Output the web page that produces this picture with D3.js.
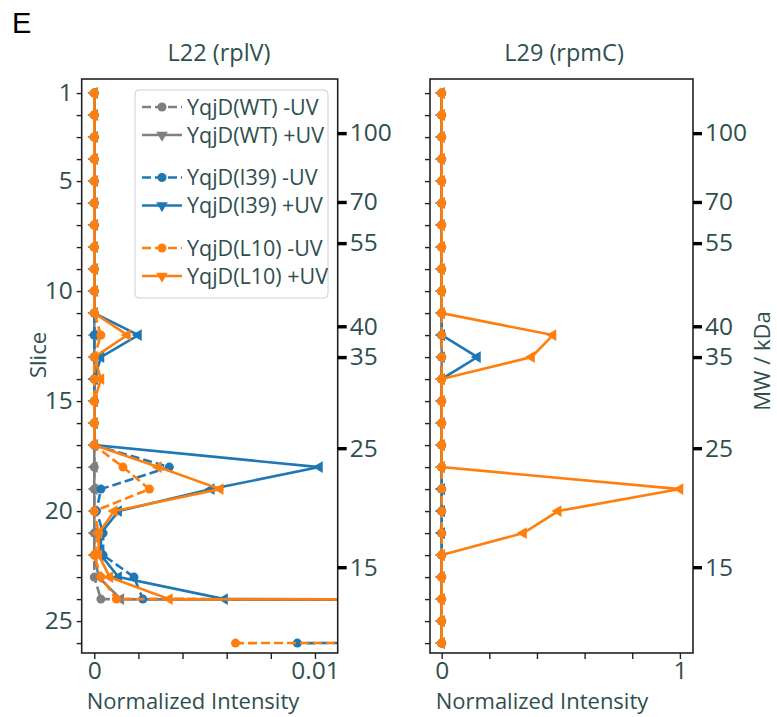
<html>
<head>
  <title>Slice profiles</title>
  <script src='https://d3js.org/d3.v7.min.js'></script>
  <style>
    body { margin: 0; background: #fff; }
    text { font-family: 'Open Sans', sans-serif; }
  </style>
</head>
<body>
<script>

// slice numbers and tick labels
var slices = [1,2,3,4,5,6,7,8,9,10,11,12,13,14,15,16,17,18,19,20,21,22,23,24,25,26];
var sliceLabels = [1, 5, 10, 15, 20, 25];
var mwLabels = [100, 70, 55, 40, 35, 25, 15];
var mwSlice = [2.82, 5.95, 7.82, 11.6, 13.0, 17.14, 22.55];

var seriesNames = ["YqjD(WT) -UV", "YqjD(WT) +UV", "YqjD(I39) -UV", "YqjD(I39) +UV", "YqjD(L10) -UV", "YqjD(L10) +UV"];
var seriesColors = ["#7f7f7f", "#7f7f7f", "#1f77b4", "#1f77b4", "#ff7f0e", "#ff7f0e"];
var seriesUV = ["-", "+", "-", "+", "-", "+"];

// L22 (rplV) normalized intensity per slice
var l22WtMinus  = [0,0,0,0,0,0,0,0,0,0,0,0,0,0,0,0,0,0,0,0,0,0,0,0.0003,0.45,0.05];
var l22WtPlus   = [0,0,0,0,0,0,0,0,0,0,0,0,0,0,0,0,0,0,0,0,0,0,0.0002,0.0012,0.5,0.2];
var l22I39Minus = [0,0,0,0,0,0,0,0,0,0,0,0,0,0,0,0,0,0.0034,0.0003,0.0001,0.0004,0.0004,0.0018,0.0022,0.8,0.0092];
var l22I39Plus  = [0,0,0,0,0,0,0,0,0,0,0,0.002,0.0003,0,0,0,0,0.0102,0.0053,0.0011,0.0003,0.0003,0.0011,0.0059,0.7,0.3];
var l22L10Minus = [0,0,0,0,0,0,0,0,0,0,0,0.0003,0,0,0,0,0,0.0013,0.0025,0,0.0002,0,0.0003,0.001,0.9,0.0064];
var l22L10Plus  = [0,0,0,0,0,0,0,0,0,0,0,0.0015,0,0.0003,0,0,0,0.0029,0.0057,0.0009,0.0002,0.0002,0.0007,0.0034,1.0,0.25];

// L29 (rpmC)
var l29WtMinus  = [0,0,0,0,0,0,0,0,0,0,0,0,0,0,0,0,0,0,0,0,0,0,0,0,0,0];
var l29WtPlus   = [0,0,0,0,0,0,0,0,0,0,0,0,0,0,0,0,0,0,0,0,0,0,0,0,0,0];
var l29I39Minus = [0,0,0,0,0,0,0,0,0,0,0,0,0,0,0,0,0,0,0,0,0,0,0,0,0,0];
var l29I39Plus  = [0,0,0,0,0,0,0,0,0,0,0,0,0.15,0,0,0,0,0,0,0,0,0,0,0,0,0];
var l29L10Minus = [0,0,0,0,0,0,0,0,0,0,0,0,0,0,0,0,0,0,0,0,0,0,0,0,0,0];
var l29L10Plus  = [0,0,0,0,0,0,0,0,0,0,0,0.467,0.377,0,0,0,0,0,1.0,0.489,0.343,0,0,0,0,0];

var l22Ticks = [0, 0.002, 0.004, 0.006, 0.008, 0.01];
var l29Ticks = [0, 0.2, 0.4, 0.6, 0.8, 1];

var textColor = "#2f4f4f";
var width = 777,
    height = 717;

var svg = d3.select('body')
            .append('svg')
            .attr('width', width)
            .attr('height', height);

var y = d3.scaleLinear().domain([0.36, 26.45]).range([79, 653]);

svg.append('text')
   .attr('x', 12)
   .attr('y', 33)
   .text('E')
   .style('font-family', 'Liberation Sans, Arial, sans-serif')
   .style('font-size', '29px')
   .attr('fill', '#000');

function styleAxis(ax) {
  ax.select('.domain').remove();
  ax.selectAll('.tick line').attr('stroke', '#222').attr('stroke-width', 1.4);
  ax.selectAll('.tick text').attr('fill', textColor).style('font-size', '24.5px');
}

function drawPanel(id, left, right, xDomain, xTicks, title, titleX, labelX, data) {
  var x = d3.scaleLinear().domain(xDomain).range([left, right]);

  svg.append('clipPath')
     .attr('id', 'clip' + id)
     .append('rect')
     .attr('x', left).attr('y', 79)
     .attr('width', right - left).attr('height', 653 - 79);

  var g = svg.append('g').attr('clip-path', 'url(#clip' + id + ')');

  data.forEach(function(vals, k) {
    var pts = slices.map(function(s, i) { return [vals[i], s]; });
    var line = d3.line()
                 .x(function(d) { return x(d[0]); })
                 .y(function(d) { return y(d[1]); });
    g.append('path')
     .attr('d', line(pts))
     .attr('fill', 'none')
     .attr('stroke', seriesColors[k])
     .attr('stroke-width', 2.6)
     .attr('stroke-dasharray', seriesUV[k] == "-" ? "9,4" : null);

    var sym = seriesUV[k] == "-" ? d3.symbol().type(d3.symbolCircle).size(64)
                                 : d3.symbol().type(d3.symbolTriangle).size(58);
    g.selectAll('.m' + k)
     .data(pts)
     .enter()
     .append('path')
     .attr('d', sym)
     .attr('transform', function(d) {
        return 'translate(' + x(d[0]) + ',' + y(d[1]) + ')' + (seriesUV[k] == "+" ? ' rotate(-90)' : '');
     })
     .attr('fill', seriesColors[k]);
  });

  // frame
  svg.append('rect')
     .attr('x', left).attr('y', 79)
     .attr('width', right - left).attr('height', 653 - 79)
     .attr('fill', 'none')
     .attr('stroke', '#222')
     .attr('stroke-width', 1.6);

  var ay = svg.append('g')
              .attr('transform', 'translate(' + left + ',0)')
              .call(d3.axisLeft(y).tickValues(slices).tickSize(5).tickPadding(4)
                      .tickFormat(function(d) { return (id == 1 && sliceLabels.indexOf(d) >= 0) ? d : ""; }));
  styleAxis(ay);

  var ax = svg.append('g')
              .attr('transform', 'translate(0,653)')
              .call(d3.axisBottom(x).tickValues(xTicks).tickSize(6).tickPadding(3)
                      .tickFormat(function(d, i) { return i == 0 ? "0" : (i == xTicks.length - 1 ? String(d) : ""); }));
  styleAxis(ax);

  var amw = svg.append('g')
               .attr('transform', 'translate(' + right + ',0)')
               .call(d3.axisRight(y).tickValues(mwSlice).tickSize(9).tickPadding(3)
                       .tickFormat(function(d, i) { return mwLabels[i]; }));
  styleAxis(amw);
  amw.selectAll('.tick line').attr('stroke', '#000').attr('stroke-width', 3.4);

  svg.append('text')
     .attr('x', titleX)
     .attr('y', 61)
     .text(title)
     .attr('text-anchor', 'middle')
     .attr('fill', textColor)
     .style('font-size', '23.5px');

  svg.append('text')
     .attr('x', labelX)
     .attr('y', 709)
     .text('Normalized Intensity')
     .attr('text-anchor', 'middle')
     .attr('fill', textColor)
     .style('font-size', '22px');
}

drawPanel(1, 81.7, 337.7, [-0.00057, 0.01103], l22Ticks, 'L22 (rplV)', 219, 193,
          [l22WtMinus, l22WtPlus, l22I39Minus, l22I39Plus, l22L10Minus, l22L10Plus]);
drawPanel(2, 430, 693, [-0.049, 1.055], l29Ticks, 'L29 (rpmC)', 564, 542,
          [l29WtMinus, l29WtPlus, l29I39Minus, l29I39Plus, l29L10Minus, l29L10Plus]);

svg.append('text')
   .attr('transform', 'translate(46,355) rotate(-90)')
   .text('Slice')
   .attr('text-anchor', 'middle')
   .attr('fill', textColor)
   .style('font-size', '22px');

svg.append('text')
   .attr('transform', 'translate(770,361) rotate(-90)')
   .text('MW / kDa')
   .attr('text-anchor', 'middle')
   .attr('fill', textColor)
   .style('font-size', '22px');

// legend
var leg = svg.append('g');
leg.append('rect')
   .attr('x', 135).attr('y', 90)
   .attr('width', 193).attr('height', 208)
   .attr('rx', 4)
   .attr('fill', '#fff').attr('fill-opacity', 0.8)
   .attr('stroke', '#d0d0d0');

seriesNames.forEach(function(name, k) {
  var ry = 107 + k * 28 + Math.floor(k / 2) * 14.5;
  leg.append('line')
     .attr('x1', 142).attr('x2', 182)
     .attr('y1', ry).attr('y2', ry)
     .attr('stroke', seriesColors[k])
     .attr('stroke-width', 2.6)
     .attr('stroke-dasharray', seriesUV[k] == "-" ? "9,4" : null);
  var sym = seriesUV[k] == "-" ? d3.symbol().type(d3.symbolCircle).size(64)
                               : d3.symbol().type(d3.symbolTriangle).size(58);
  leg.append('path')
     .attr('d', sym)
     .attr('transform', 'translate(162,' + ry + ')' + (seriesUV[k] == "+" ? ' rotate(180)' : ''))
     .attr('fill', seriesColors[k]);
  leg.append('text')
     .attr('x', 187)
     .attr('y', ry)
     .attr('dy', '0.36em')
     .text(name)
     .attr('fill', textColor)
     .style('font-size', '21.5px');
});

</script>
</body>
</html>
